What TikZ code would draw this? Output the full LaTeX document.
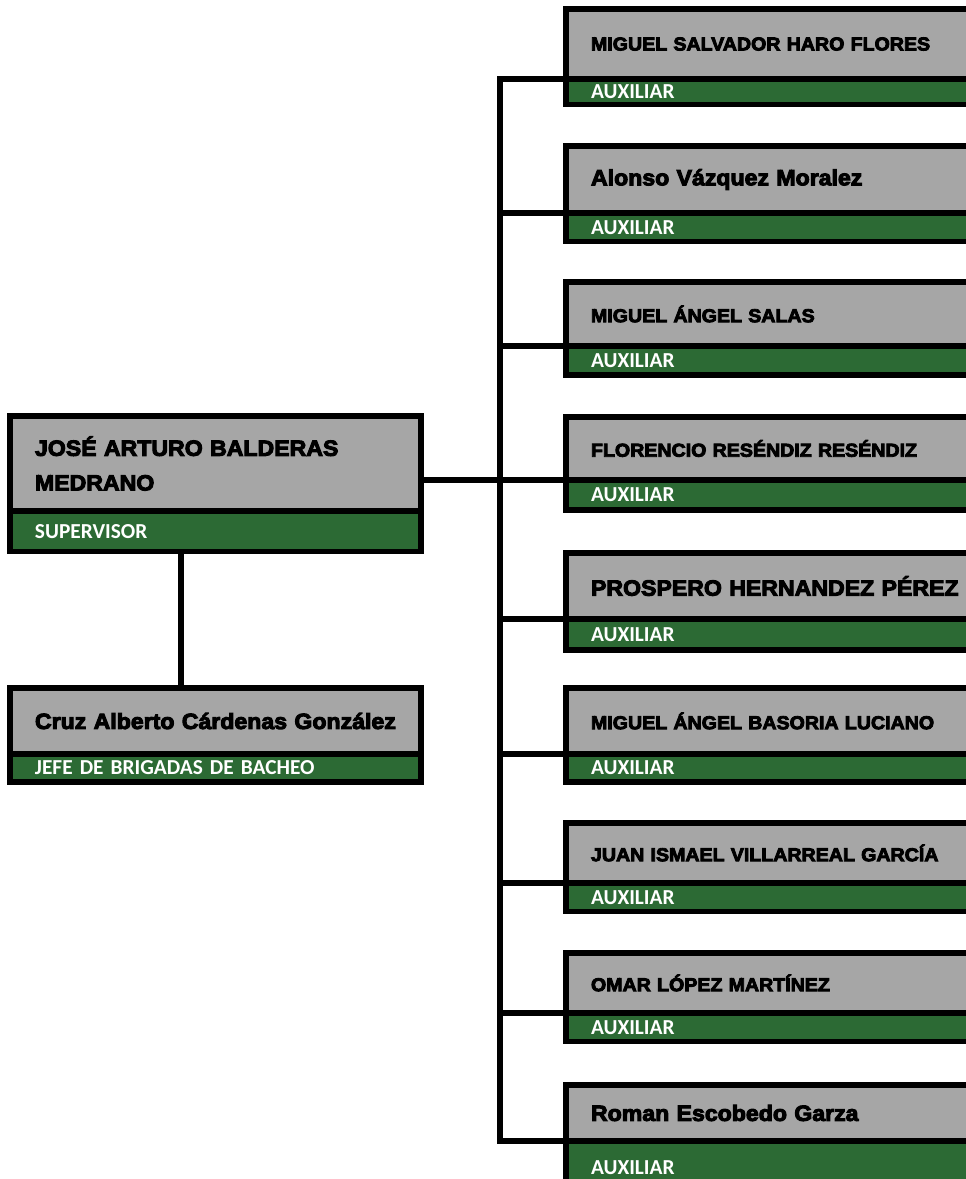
\documentclass[tikz,border=0pt]{standalone}
\usepackage{fontspec}
\usepackage{tikz}
\newfontfamily\namefont{Liberation Sans Bold}[FakeStretch=1.05, FakeBold=4.5]
\newfontfamily\rolefont{Carlito}
\definecolor{boxgray}{RGB}{166,166,166}
\definecolor{rolegreen}{RGB}{44,106,52}
\tikzset{
  namebox/.style={draw, line width=4.1pt, fill=boxgray, anchor=north west, outer sep=0pt,
    inner xsep=18.75pt, inner ysep=0pt, minimum width=306.75pt, text width=269.25pt, align=left,
    font=\namefont\fontsize{14}{17}\selectfont},
  rolebox/.style={draw, line width=4.1pt, fill=rolegreen, text=white, anchor=north west, outer sep=0pt,
    inner xsep=18.75pt, inner ysep=0pt, minimum width=306.75pt, text width=269.25pt, align=left,
    font=\rolefont\bfseries\fontsize{16}{18}\selectfont},
  bigname/.style={font=\namefont\fontsize{16.5}{26}\selectfont},
  leftbox/.style={minimum width=308.25pt, text width=270.75pt},
  link/.style={line width=4.1pt}
}
\begin{document}
\begin{tikzpicture}[x=0.75pt,y=-0.75pt]
  \useasboundingbox (0,0) rectangle (966,1179);
  \clip (0,0) rectangle (966,1179);

  % supervisor y jefe
  \node[namebox, leftbox, bigname, minimum height=71.25pt] (sup) at (10,416) {JOSÉ ARTURO BALDERAS\\MEDRANO};
  \node[rolebox, leftbox, minimum height=30.375pt] (suprole) at (sup.south west) {SUPERVISOR};
  \node[namebox, leftbox, bigname, minimum height=49.5pt] (cruz) at (10,688) {\mbox{Cruz Alberto Cárdenas González}};
  \node[rolebox, leftbox, minimum height=21pt] (cruzrole) at (cruz.south west) {JEFE DE BRIGADAS DE BACHEO};

  % auxiliares
  \node[namebox, minimum height=52.5pt] (aux1) at (566,9) {MIGUEL SALVADOR HARO FLORES};
  \node[rolebox, minimum height=19.125pt] (aux1role) at (aux1.south west) {AUXILIAR};
  \node[namebox, bigname, minimum height=50.25pt] (aux2) at (566,146) {Alonso Vázquez Moralez};
  \node[rolebox, minimum height=21.375pt] (aux2role) at (aux2.south west) {AUXILIAR};
  \node[namebox, minimum height=48pt] (aux3) at (566,282) {MIGUEL ÁNGEL SALAS};
  \node[rolebox, minimum height=21.75pt] (aux3role) at (aux3.south west) {AUXILIAR};
  \node[namebox, minimum height=47.25pt] (aux4) at (566,417) {FLORENCIO RESÉNDIZ RESÉNDIZ};
  \node[rolebox, minimum height=22.5pt] (aux4role) at (aux4.south west) {AUXILIAR};
  \node[namebox, bigname, minimum height=49.5pt] (aux5) at (566,553) {\mbox{PROSPERO HERNANDEZ PÉREZ}};
  \node[rolebox, minimum height=23.25pt] (aux5role) at (aux5.south west) {AUXILIAR};
  \node[namebox, minimum height=49.5pt] (aux6) at (566,688) {MIGUEL ÁNGEL BASORIA LUCIANO};
  \node[rolebox, minimum height=21pt] (aux6role) at (aux6.south west) {AUXILIAR};
  \node[namebox, minimum height=45pt] (aux7) at (566,823) {JUAN ISMAEL VILLARREAL GARCÍA};
  \node[rolebox, minimum height=21.375pt] (aux7role) at (aux7.south west) {AUXILIAR};
  \node[namebox, minimum height=45pt] (aux8) at (566,953) {OMAR LÓPEZ MARTÍNEZ};
  \node[rolebox, minimum height=21.375pt] (aux8role) at (aux8.south west) {AUXILIAR};
  \node[namebox, bigname, minimum height=42pt] (aux9) at (566,1085) {Roman Escobedo Garza};
  \node[rolebox, minimum height=39.75pt] (aux9role) at (aux9.south west) {AUXILIAR};

  % lineas
  \coordinate (bus) at (500,0);
  \draw[link] (aux1.south west) -- (aux1.south west -| bus) -- (aux9.south west -| bus) -- (aux9.south west);
  \foreach \i in {2,...,8}
    \draw[link] (aux\i.south west -| bus) -- (aux\i.south west);
  \draw[link] (sup.east |- aux4.south west) -- (aux4.south west);
  \draw[link] ([xshift=128.25pt]suprole.south west) -- ([xshift=128.25pt]cruz.north west);
\end{tikzpicture}
\end{document}
